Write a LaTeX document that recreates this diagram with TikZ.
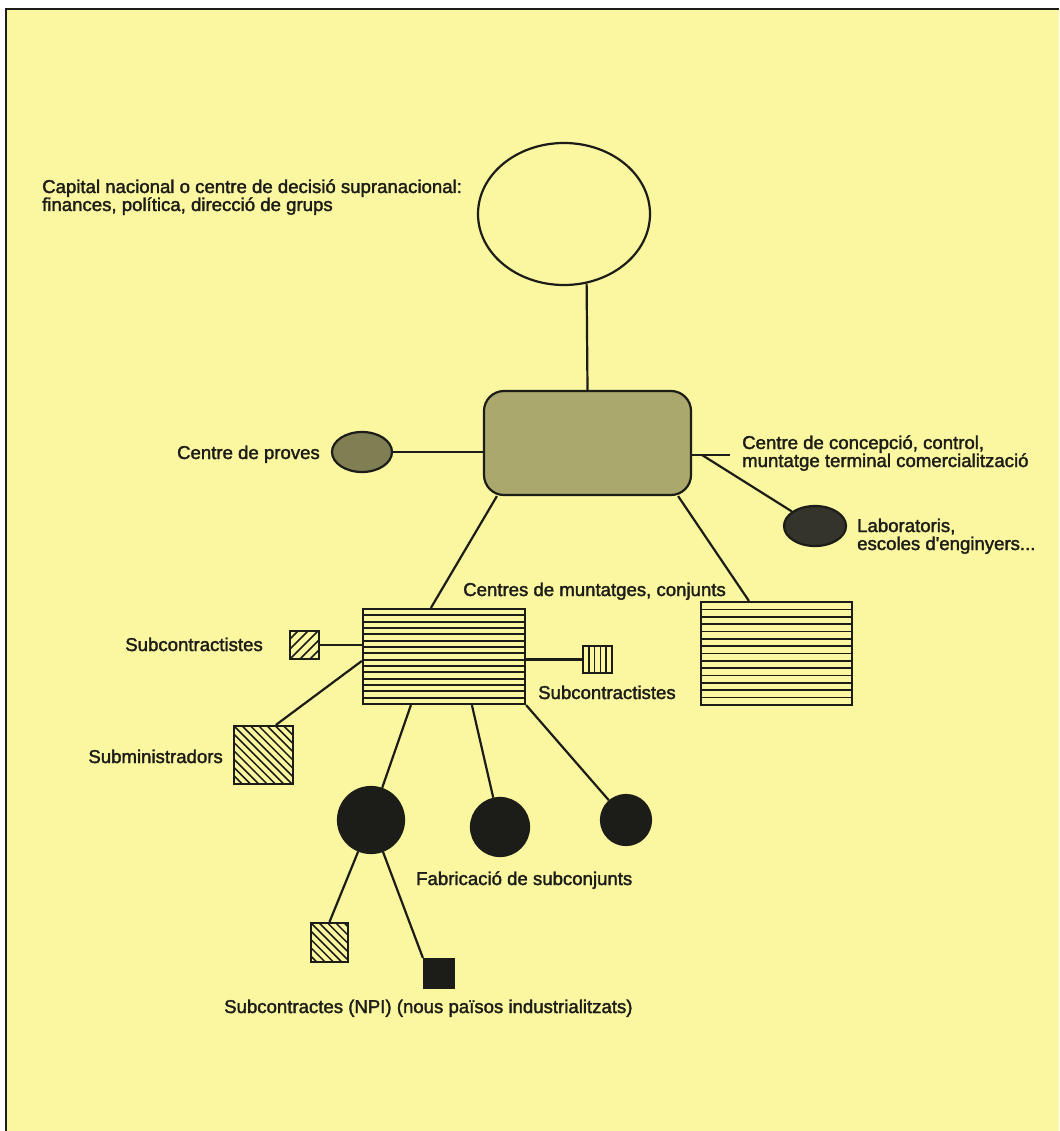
\documentclass[tikz,border=0pt]{standalone}
\usepackage{fontspec}
\setmainfont{Liberation Sans}
\newfontfamily\lblfont[FakeBold=1.8]{Liberation Sans}
\usetikzlibrary{shapes.geometric,calc}
\definecolor{bgyellow}{RGB}{250,247,160}
\definecolor{rectolive}{RGB}{170,168,108}
\definecolor{provolive}{RGB}{128,127,84}
\definecolor{labdark}{RGB}{52,52,42}
\definecolor{ink}{RGB}{28,28,24}
\tikzset{
  conn/.style={line width=2.2pt, draw=ink},
  shp/.style={draw=ink, line width=2.2pt, inner sep=0pt},
  lbl/.style={font=\lblfont\fontsize{18.6}{18}\selectfont, text=ink, inner sep=0pt, align=left},
  hstripes/.style={path picture={
    \foreach \k in {1,...,#1}{
      \pgfmathsetmacro\ff{\k/(#1+1)}
      \draw[line width=1.7pt,ink] ($(path picture bounding box.north west)!\ff!(path picture bounding box.south west)$) -- ++(400pt,0pt);
    }}},
  vstripes/.style={path picture={
    \foreach \k in {1,...,#1}{
      \pgfmathsetmacro\ff{\k/(#1+1)}
      \draw[line width=1.6pt,ink] ($(path picture bounding box.north west)!\ff!(path picture bounding box.north east)$) -- ++(0pt,-400pt);
    }}},
  hatchnw/.style={path picture={
    \foreach \i in {-14,...,14}{
      \draw[line width=1.5pt,ink] ([xshift=\i*#1]path picture bounding box.north west) -- ++(200pt,-200pt);
    }}},
  hatchne/.style={path picture={
    \foreach \i in {-14,...,14}{
      \draw[line width=1.5pt,ink] ([xshift=\i*#1]path picture bounding box.south west) -- ++(200pt,200pt);
    }}}
}
\begin{document}
\begin{tikzpicture}[x=1pt,y=-1pt]
\useasboundingbox (0,0) rectangle (1059,1131);
\fill[white] (0,0) rectangle (1059,1131);
\fill[bgyellow] (6,9) rectangle (1059,1131);
\draw[line width=2.2pt, ink] (6,1131) -- (6,9) -- (1059,9);

% shapes
\node[shp, ellipse, minimum width=172pt, minimum height=142pt] (capitalshape) at (564,214) {};
\node[shp, rectangle, rounded corners=20pt, fill=rectolive, minimum width=207pt, minimum height=104pt] (centre) at (587.5,443) {};
\node[shp, ellipse, fill=provolive, minimum width=60pt, minimum height=40pt] (proves) at (362,452) {};
\node[shp, ellipse, fill=labdark, minimum width=62pt, minimum height=40pt] (lab) at (815,526) {};
\node[shp, rectangle, fill=bgyellow, hstripes=14, minimum width=162pt, minimum height=95pt] (montL) at (444,656.5) {};
\node[shp, rectangle, fill=bgyellow, hstripes=13, minimum width=151pt, minimum height=103pt] (montR) at (776.5,653.5) {};
\node[shp, rectangle, fill=bgyellow, hatchne=10pt, minimum width=29pt, minimum height=28pt] (subcA) at (304.5,645) {};
\node[shp, rectangle, fill=bgyellow, vstripes=4, minimum width=29pt, minimum height=27pt] (subcB) at (597.5,659.5) {};
\node[shp, rectangle, fill=bgyellow, hatchnw=8.3pt, minimum width=59pt, minimum height=58pt] (subm) at (263.5,755) {};
\node[shp, circle, fill=ink, minimum size=66pt] (fabA) at (371,820) {};
\node[shp, circle, fill=ink, minimum size=58pt] (fabB) at (500,827) {};
\node[shp, circle, fill=ink, minimum size=50pt] (fabC) at (626,820) {};
\node[shp, rectangle, fill=bgyellow, hatchnw=8.3pt, minimum width=37pt, minimum height=39pt] (npiA) at (329.5,942.5) {};
\node[shp, rectangle, fill=ink, minimum width=30pt, minimum height=29pt] (npiB) at (439,973.5) {};

\coordinate (concend) at (730,455);
\coordinate (concjoin) at (702,455);

% connectors
\draw[conn] (centre.north) -- (capitalshape.-72);
\draw[conn] (proves.east) -- (proves.east -| centre.west);
\draw[conn] (concend -| centre.east) -- (concend);
\draw[conn] (concjoin) -- (lab);
\draw[conn] ([xshift=14pt]centre.south west) -- ([xshift=69pt]montL.north west);
\draw[conn] ([xshift=-14pt]centre.south east) -- ([xshift=49pt]montR.north west);
\draw[conn] (subcA.east) -- (subcA.east -| montL.west);
\draw[conn] (subcB.west -| montL.east) -- (subcB.west);
\draw[conn] ([yshift=-53pt]montL.north west) -- ([xshift=43pt]subm.north west);
\draw[conn] ([xshift=49pt]montL.south west) -- (fabA);
\draw[conn] ([xshift=110pt]montL.south west) -- (fabB);
\draw[conn] (montL.south east) -- (fabC);
\draw[conn] (fabA) -- (npiA.north);
\draw[conn] (fabA) -- (npiB.north west);

% labels (base anchor = baseline of the last line)
\node[lbl, anchor=base west] (tcapital) at (42,211) {Capital nacional o centre de decisió supranacional:\\finances, política, direcció de grups};
\node[lbl, anchor=base east] (tproves) at (320,459) {Centre de proves};
\node[lbl, anchor=base west] (tconc) at (742,467) {Centre de concepció, control,\\muntatge terminal comercialització};
\node[lbl, anchor=base west] (tlab) at (857,550) {Laboratoris,\\escoles d'enginyers...};
\node[lbl, anchor=base west] (tmunt) at (463,596) {Centres de muntatges, conjunts};
\node[lbl, anchor=base east] (tsubcA) at (263,651) {Subcontractistes};
\node[lbl, anchor=base west] (tsubcB) at (538,699) {Subcontractistes};
\node[lbl, anchor=base east] (tsubm) at (223,763) {Subministradors};
\node[lbl, anchor=base west] (tfab) at (416,885) {Fabricació de subconjunts};
\node[lbl, anchor=base west] (tnpi) at (224,1013) {Subcontractes (NPI) (nous països industrialitzats)};
\end{tikzpicture}
\end{document}
